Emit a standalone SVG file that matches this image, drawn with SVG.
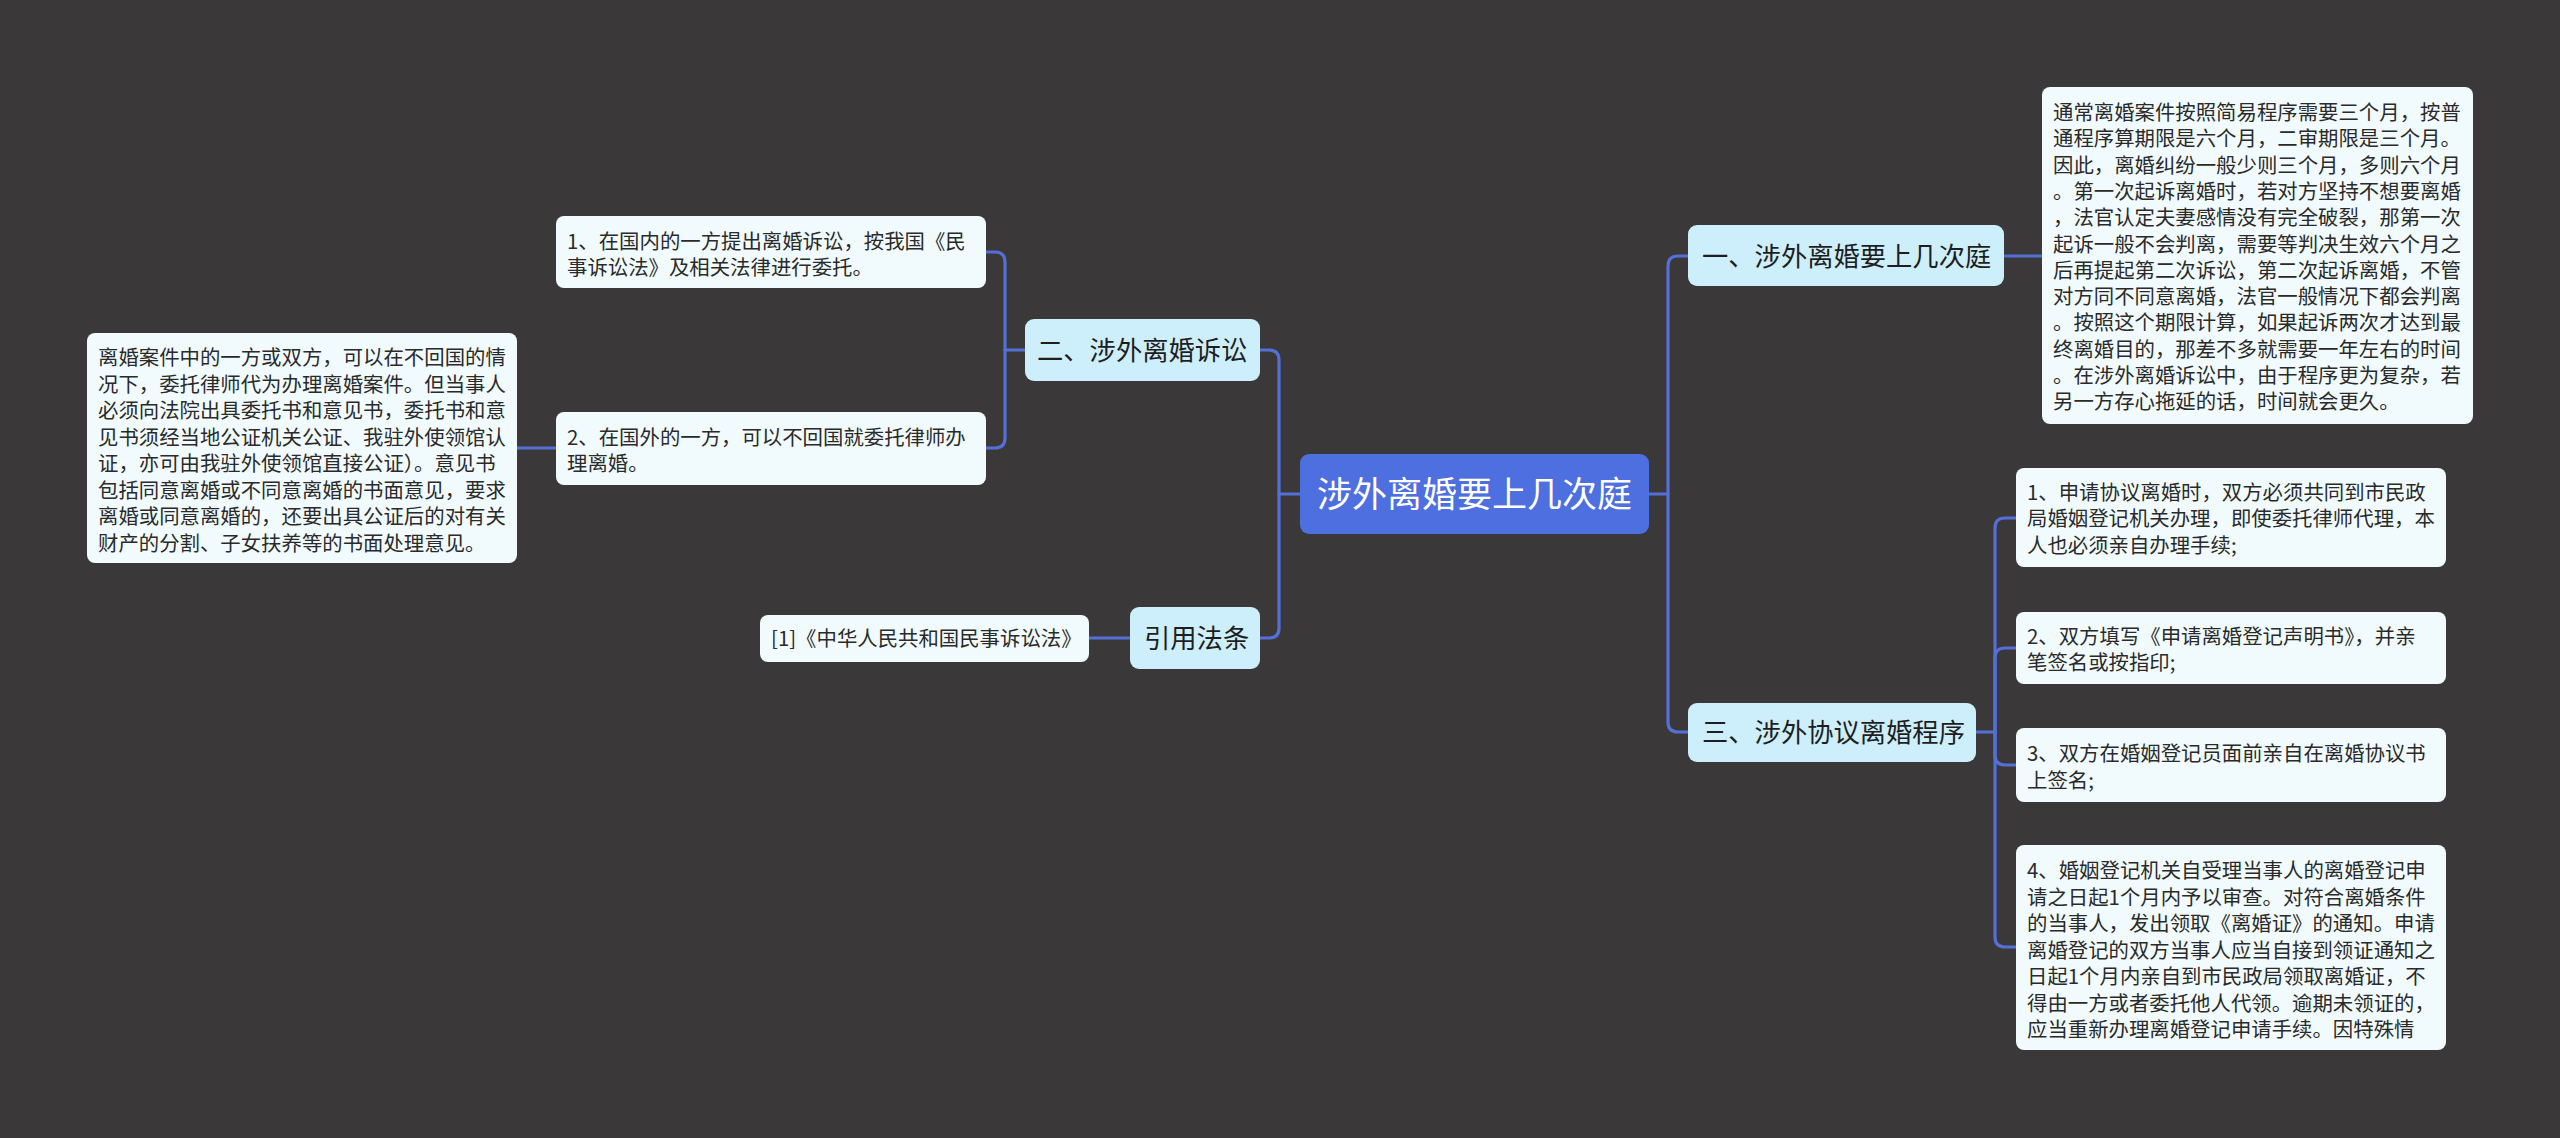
<svg xmlns="http://www.w3.org/2000/svg" width="2560" height="1138" viewBox="0 0 2560 1138">
<defs>
<style>
.bg{fill:#3a3839}
.conn{fill:none;stroke:#5470d8;stroke-width:3.2;stroke-linecap:round}
.root{fill:#4d6fe0}
.branch{fill:#cdeefb}
.leaf{fill:#f1fbfd}
.t{font-family:"Noto Sans CJK SC","Noto Sans",sans-serif;fill:#2a2a2a}
.lt{font-size:20.4px}
.bt{font-size:26.3px;fill:#1e1e1e}
.rt{font-size:35px;fill:#ffffff}
</style>
</defs>
<rect class="bg" x="0" y="0" width="2560" height="1138"/>
<g id="connectors">
<path class="conn" d="M1649,494 H1668"/>
<path class="conn" d="M1688,256 H1678 Q1668,256 1668,266 V722 Q1668,732 1678,732 H1688"/>
<path class="conn" d="M2004,256 H2042"/>
<path class="conn" d="M1976,732 H1995"/>
<path class="conn" d="M2016,518 H2005 Q1995,518 1995,528 V937 Q1995,947 2005,947 H2016"/>
<path class="conn" d="M1995,732 V658 Q1995,648 2005,648 H2016"/>
<path class="conn" d="M1995,732 V755 Q1995,765 2005,765 H2016"/>
<path class="conn" d="M1300,494 H1279"/>
<path class="conn" d="M1260,350 H1269 Q1279,350 1279,360 V628 Q1279,638 1269,638 H1260"/>
<path class="conn" d="M1025,350 H1005"/>
<path class="conn" d="M986,252 H995 Q1005,252 1005,262 V438 Q1005,448 995,448 H986"/>
<path class="conn" d="M1130,638 H1089"/>
<path class="conn" d="M556,448 H517"/>
</g>
<g id="root">
<rect class="root" x="1300" y="454" width="349" height="80" rx="9"/>
<text class="t rt" x="1474.5" y="507" text-anchor="middle">涉外离婚要上几次庭</text>
</g>
<g id="b1">
<rect class="branch" x="1688" y="225" width="316" height="61" rx="9"/>
<text class="t bt" x="1702" y="266">一、涉外离婚要上几次庭</text>
</g>
<g id="b1-detail">
<rect class="leaf" x="2042" y="87" width="431" height="337" rx="8"/>
<text class="t lt" x="2053" y="120">
<tspan x="2053" y="120">通常离婚案件按照简易程序需要三个月，按普</tspan>
<tspan x="2053" y="146.3">通程序算期限是六个月，二审期限是三个月。</tspan>
<tspan x="2053" y="172.6">因此，离婚纠纷一般少则三个月，多则六个月</tspan>
<tspan x="2053" y="198.9">。第一次起诉离婚时，若对方坚持不想要离婚</tspan>
<tspan x="2053" y="225.2">，法官认定夫妻感情没有完全破裂，那第一次</tspan>
<tspan x="2053" y="251.5">起诉一般不会判离，需要等判决生效六个月之</tspan>
<tspan x="2053" y="277.8">后再提起第二次诉讼，第二次起诉离婚，不管</tspan>
<tspan x="2053" y="304.1">对方同不同意离婚，法官一般情况下都会判离</tspan>
<tspan x="2053" y="330.4">。按照这个期限计算，如果起诉两次才达到最</tspan>
<tspan x="2053" y="356.7">终离婚目的，那差不多就需要一年左右的时间</tspan>
<tspan x="2053" y="383">。在涉外离婚诉讼中，由于程序更为复杂，若</tspan>
<tspan x="2053" y="409.3">另一方存心拖延的话，时间就会更久。</tspan>
</text>
</g>
<g id="b3">
<rect class="branch" x="1688" y="703" width="288" height="59" rx="9"/>
<text class="t bt" x="1702" y="742">三、涉外协议离婚程序</text>
</g>
<g id="b3-c1">
<rect class="leaf" x="2016" y="468" width="430" height="99" rx="8"/>
<text class="t lt">
<tspan x="2027" y="499.5">1、申请协议离婚时，双方必须共同到市民政</tspan>
<tspan x="2027" y="526">局婚姻登记机关办理，即使委托律师代理，本</tspan>
<tspan x="2027" y="552.5">人也必须亲自办理手续;</tspan>
</text>
</g>
<g id="b3-c2">
<rect class="leaf" x="2016" y="612" width="430" height="72" rx="8"/>
<text class="t lt">
<tspan x="2027" y="643.5">2、双方填写《申请离婚登记声明书》，并亲</tspan>
<tspan x="2027" y="670">笔签名或按指印;</tspan>
</text>
</g>
<g id="b3-c3">
<rect class="leaf" x="2016" y="728" width="430" height="74" rx="8"/>
<text class="t lt">
<tspan x="2027" y="761">3、双方在婚姻登记员面前亲自在离婚协议书</tspan>
<tspan x="2027" y="787.5">上签名;</tspan>
</text>
</g>
<g id="b3-c4">
<rect class="leaf" x="2016" y="845" width="430" height="205" rx="8"/>
<text class="t lt">
<tspan x="2027" y="878">4、婚姻登记机关自受理当事人的离婚登记申</tspan>
<tspan x="2027" y="904.5">请之日起1个月内予以审查。对符合离婚条件</tspan>
<tspan x="2027" y="931">的当事人，发出领取《离婚证》的通知。申请</tspan>
<tspan x="2027" y="957.5">离婚登记的双方当事人应当自接到领证通知之</tspan>
<tspan x="2027" y="984">日起1个月内亲自到市民政局领取离婚证，不</tspan>
<tspan x="2027" y="1010.5">得由一方或者委托他人代领。逾期未领证的，</tspan>
<tspan x="2027" y="1037">应当重新办理离婚登记申请手续。因特殊情</tspan>
</text>
</g>
<g id="b2">
<rect class="branch" x="1025" y="319" width="235" height="62" rx="9"/>
<text class="t bt" x="1037" y="360">二、涉外离婚诉讼</text>
</g>
<g id="b2-c1">
<rect class="leaf" x="556" y="216" width="430" height="72" rx="8"/>
<text class="t lt">
<tspan x="567" y="248.5">1、在国内的一方提出离婚诉讼，按我国《民</tspan>
<tspan x="567" y="275">事诉讼法》及相关法律进行委托。</tspan>
</text>
</g>
<g id="b2-c2">
<rect class="leaf" x="556" y="412" width="430" height="73" rx="8"/>
<text class="t lt">
<tspan x="567" y="444.5">2、在国外的一方，可以不回国就委托律师办</tspan>
<tspan x="567" y="471">理离婚。</tspan>
</text>
</g>
<g id="b2-c2-detail">
<rect class="leaf" x="87" y="333" width="430" height="230" rx="8"/>
<text class="t lt">
<tspan x="98" y="365">离婚案件中的一方或双方，可以在不回国的情</tspan>
<tspan x="98" y="391.5">况下，委托律师代为办理离婚案件。但当事人</tspan>
<tspan x="98" y="418">必须向法院出具委托书和意见书，委托书和意</tspan>
<tspan x="98" y="444.5">见书须经当地公证机关公证、我驻外使领馆认</tspan>
<tspan x="98" y="471">证，亦可由我驻外使领馆直接公证）。意见书</tspan>
<tspan x="98" y="497.5">包括同意离婚或不同意离婚的书面意见，要求</tspan>
<tspan x="98" y="524">离婚或同意离婚的，还要出具公证后的对有关</tspan>
<tspan x="98" y="550.5">财产的分割、子女扶养等的书面处理意见。</tspan>
</text>
</g>
<g id="b4">
<rect class="branch" x="1130" y="607" width="130" height="62" rx="9"/>
<text class="t bt" x="1144" y="648">引用法条</text>
</g>
<g id="b4-c1">
<rect class="leaf" x="760" y="615" width="329" height="47" rx="8"/>
<text class="t lt" x="771" y="646">[1]《中华人民共和国民事诉讼法》</text>
</g>
</svg>
